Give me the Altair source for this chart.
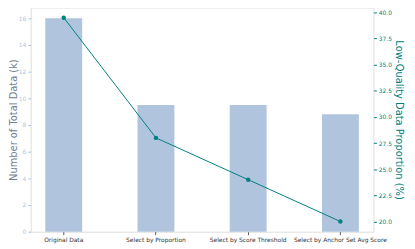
import altair as alt
import pandas as pd

categories = ["Original Data", "Select by Proportion", "Select by Score Threshold", "Select by Anchor Set Avg Score"]
total_k = [16.0, 9.5, 9.5, 8.8]
low_quality_pct = [39.5, 28.0, 24.0, 20.0]

df = pd.DataFrame({"cat": categories, "total": total_k, "pct": low_quality_pct})

x = alt.X("cat:N", sort=categories, title=None,
          scale=alt.Scale(paddingInner=0.6, paddingOuter=0.158),
          axis=alt.Axis(labelAngle=0, labelFont="DejaVu Sans", labelFontSize=6,
                        labelColor="#333333", tickColor="#555555", tickSize=3,
                        domain=False, labelPadding=2))

bars = alt.Chart(df).mark_bar(color="#b0c4de").encode(
    x=x,
    y=alt.Y("total:Q", title="Number of Total Data (k)",
            scale=alt.Scale(domain=[0, 16.8], nice=False, zero=False),
            axis=alt.Axis(values=[0, 2, 4, 6, 8, 10, 12, 14, 16], grid=False, domain=False,
                          labelColor="#b0c4de", tickColor="#b0c4de", tickSize=3,
                          labelFont="DejaVu Sans", labelFontSize=6, labelPadding=2,
                          titleFont="DejaVu Sans", titleFontSize=10, titleFontWeight="normal",
                          titleColor="#708090", titlePadding=0))
)

line_base = alt.Chart(df).encode(
    x=x,
    y=alt.Y("pct:Q", title="Low-Quality Data Proportion (%)",
            scale=alt.Scale(domain=[19.025, 40.475], nice=False, zero=False),
            axis=alt.Axis(orient="right", values=[20, 22.5, 25, 27.5, 30, 32.5, 35, 37.5, 40],
                          format=".1f", grid=False, domain=False,
                          labelColor="#008080", tickColor="#008080", tickSize=3,
                          labelFont="DejaVu Sans", labelFontSize=6, labelPadding=2,
                          titleFont="DejaVu Sans", titleFontSize=10, titleFontWeight="normal",
                          titleColor="#008080", titlePadding=2))
)
line = line_base.mark_line(color="#008080", strokeWidth=1)
pts = line_base.mark_point(color="#008080", filled=True, opacity=1, size=20)

chart = alt.layer(bars, line + pts).resolve_scale(y="independent").properties(
    width=347, height=227,
    autosize=alt.AutoSizeParams(type="none"),
    padding={"left": 23, "top": -2, "right": 34, "bottom": 14},
).configure_view(fill="#e5e5e5", stroke=None).configure(background="white")

chart.save("out.html", embed_options={"renderer": "svg", "actions": False})
